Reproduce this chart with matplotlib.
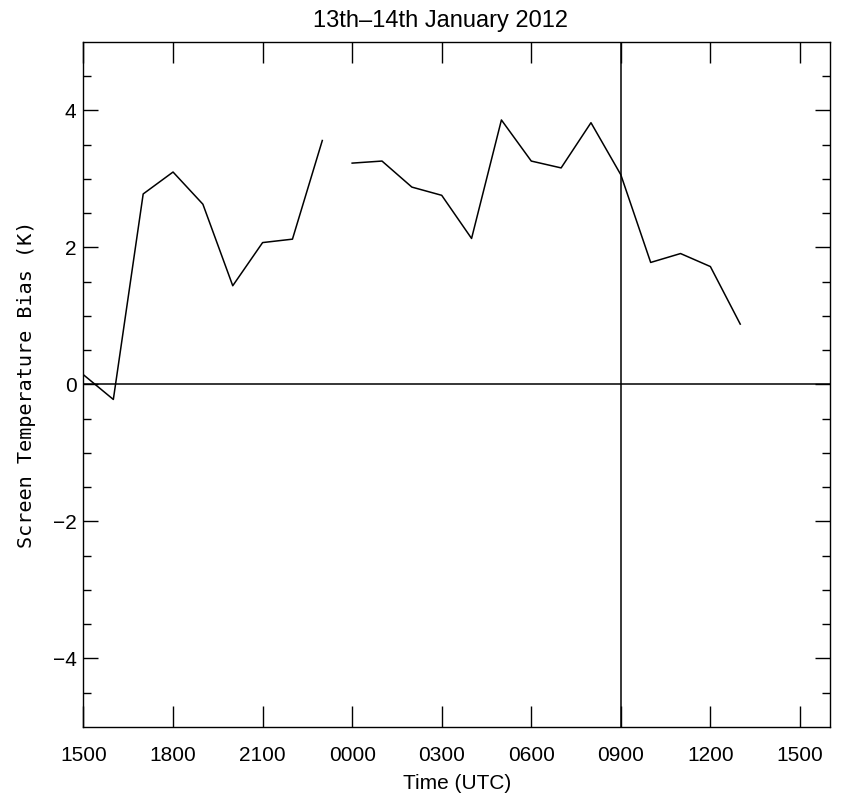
import matplotlib
matplotlib.use("Agg")
import matplotlib.pyplot as plt
import numpy as np

plt.rcParams['font.family'] = ['Liberation Sans', 'DejaVu Sans']

# hours since 0000 on the 13th (15 = 1500 on 13th, 39 = 1500 on 14th)
hours_13 = [15, 16, 17, 18, 19, 20, 21, 22, 23]
bias_13 = [0.14, -0.22, 2.78, 3.10, 2.63, 1.44, 2.07, 2.12, 3.56]
hours_14 = [24, 25, 26, 27, 28, 29, 30, 31, 32, 33, 34, 35, 36, 37]
bias_14 = [3.23, 3.26, 2.88, 2.76, 2.13, 3.86, 3.26, 3.16, 3.82, 3.06,
           1.78, 1.91, 1.72, 0.88]

tick_pos = [15, 18, 21, 24, 27, 30, 33, 36, 39]
tick_lab = ['1500', '1800', '2100', '0000', '0300', '0600', '0900', '1200', '1500']

fig = plt.figure(figsize=(8.45, 8.05), dpi=100)
ax = fig.add_axes([0.0988, 0.097, 0.8832, 0.851])

ax.plot(hours_13, bias_13, color='black', lw=1.1)
ax.plot(hours_14, bias_14, color='black', lw=1.1)
ax.axhline(0, color='black', lw=1.1)
ax.axvline(33, color='black', lw=1.1)

ax.set_xlim(15, 40)
ax.set_ylim(-5, 5)
ax.set_xticks(tick_pos)
ax.set_xticklabels(tick_lab)
ax.set_yticks([-4, -2, 0, 2, 4])
ax.set_yticks(np.arange(-4.5, 5, 0.5), minor=True)

ax.tick_params(axis='x', direction='in', length=15, width=1, top=True,
               labelsize=15, pad=14)
ax.tick_params(axis='y', which='major', direction='in', length=11, width=1,
               right=True, labelsize=15, pad=5)
ax.tick_params(axis='y', which='minor', direction='in', length=6, width=1,
               right=True)
for s in ax.spines.values():
    s.set_linewidth(1)

ax.set_xlabel('Time (UTC)', fontsize=15, labelpad=6)
fig.text(27 / 845, 1 - 384 / 805, 'Screen Temperature Bias (K)',
         rotation=90, ha='center', va='center', fontsize=14.5,
         family=['DejaVu Sans Mono', 'Liberation Mono'])
fig.text(441 / 845, 1 - 27 / 805, '13th\u201314th January 2012',
         ha='center', va='baseline', fontsize=17)

fig.savefig('out.png', dpi=100)
